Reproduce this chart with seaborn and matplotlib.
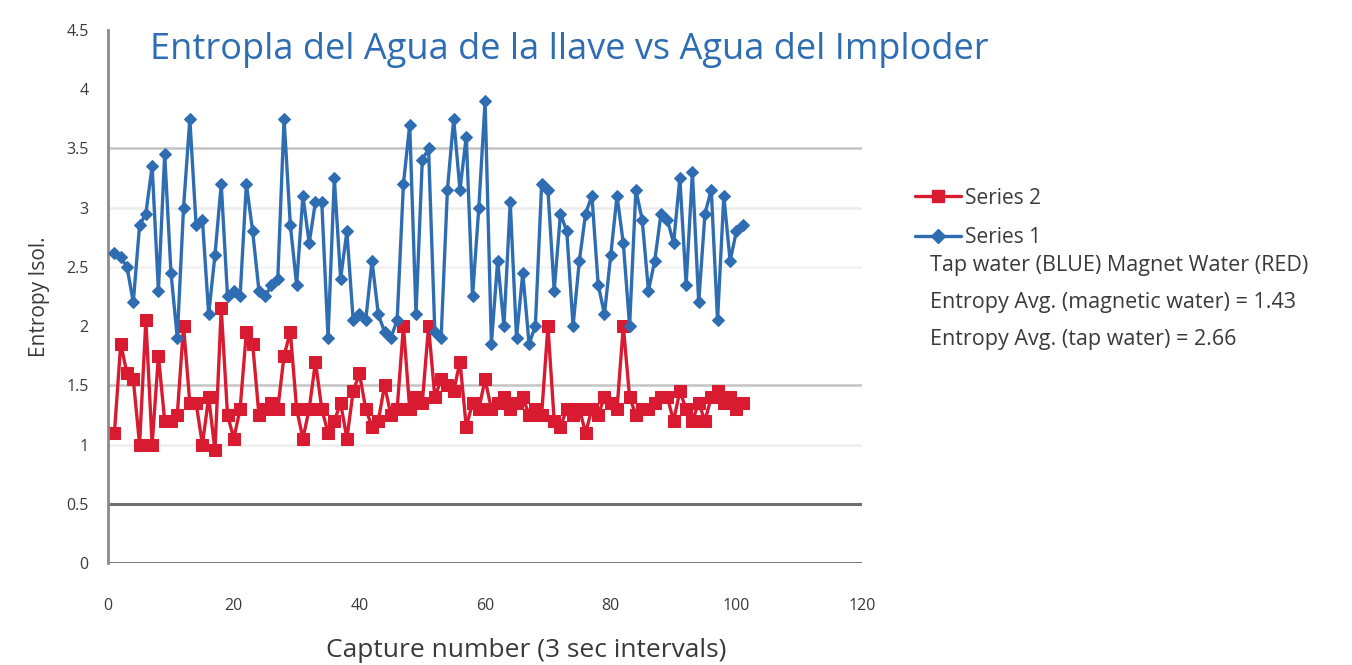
import numpy as np
import pandas as pd
import matplotlib
matplotlib.use("Agg")
import matplotlib.pyplot as plt
import seaborn as sns
from matplotlib.lines import Line2D

# -----------------------------------------------
# Data (101 captures per series)
# -----------------------------------------------
capture = list(range(1, 102))

# Series 1 = tap water (blue)
series1 = [
    2.62, 2.58, 2.50, 2.20, 2.85, 2.95, 3.35, 2.30, 3.45, 2.45,
    1.90, 3.00, 3.75, 2.85, 2.90, 2.10, 2.60, 3.20, 2.25, 2.30,
    2.25, 3.20, 2.80, 2.30, 2.25, 2.35, 2.40, 3.75, 2.85, 2.35,
    3.10, 2.70, 3.05, 3.05, 1.90, 3.25, 2.40, 2.80, 2.05, 2.10,
    2.05, 2.55, 2.10, 1.95, 1.90, 2.05, 3.20, 3.70, 2.10, 3.40,
    3.50, 1.95, 1.90, 3.15, 3.75, 3.15, 3.60, 2.25, 3.00, 3.90,
    1.85, 2.55, 2.00, 3.05, 1.90, 2.45, 1.85, 2.00, 3.20, 3.15,
    2.30, 2.95, 2.80, 2.00, 2.55, 2.95, 3.10, 2.35, 2.10, 2.60,
    3.10, 2.70, 2.00, 3.15, 2.90, 2.30, 2.55, 2.95, 2.90, 2.70,
    3.25, 2.35, 3.30, 2.20, 2.95, 3.15, 2.05, 3.10, 2.55, 2.80,
    2.85,
]

# Series 2 = magnet water (red)
series2 = [
    1.10, 1.85, 1.60, 1.55, 1.00, 2.05, 1.00, 1.75, 1.20, 1.20,
    1.25, 2.00, 1.35, 1.35, 1.00, 1.40, 0.95, 2.15, 1.25, 1.05,
    1.30, 1.95, 1.85, 1.25, 1.30, 1.35, 1.30, 1.75, 1.95, 1.30,
    1.05, 1.30, 1.70, 1.30, 1.10, 1.20, 1.35, 1.05, 1.45, 1.60,
    1.30, 1.15, 1.20, 1.50, 1.25, 1.30, 2.00, 1.30, 1.40, 1.35,
    2.00, 1.40, 1.55, 1.50, 1.45, 1.70, 1.15, 1.35, 1.30, 1.55,
    1.30, 1.35, 1.40, 1.30, 1.35, 1.40, 1.25, 1.30, 1.25, 2.00,
    1.20, 1.15, 1.30, 1.25, 1.30, 1.10, 1.30, 1.25, 1.40, 1.35,
    1.30, 2.00, 1.40, 1.25, 1.30, 1.30, 1.35, 1.40, 1.40, 1.20,
    1.45, 1.30, 1.20, 1.35, 1.20, 1.40, 1.45, 1.35, 1.40, 1.30,
    1.35,
]

notes = [
    "Tap water (BLUE) Magnet Water (RED)",
    "Entropy Avg. (magnetic water) = 1.43",
    "Entropy Avg. (tap water) = 2.66",
]

df = pd.DataFrame({"Capture": capture, "Series 1": series1, "Series 2": series2})

BLUE = "#2f6db3"
RED = "#d81b30"
TXT = "#3a3a3a"

sns.set_theme(style="white")
plt.rcParams["font.family"] = ["Open Sans", "DejaVu Sans"]

fig = plt.figure(figsize=(13.52, 6.65), dpi=100)
ax = fig.add_axes([0.08, 0.1534, 0.5576, 0.8015])

# -----------------------------------------------
# Grid lines (uneven shades as in the original)
# -----------------------------------------------
grid_shades = {3.5: "#c4c4c4", 3.0: "#ececec", 2.5: "#f2f2f2",
               1.5: "#c4c4c4", 1.0: "#eeeeee", 0.5: "#6e6e6e", 0.0: "#7a7a7a"}
for yv, c in grid_shades.items():
    ax.axhline(yv, color=c, lw=2.2 if yv <= 0.5 else 1.8, zorder=0)

# -----------------------------------------------
# Lines
# -----------------------------------------------
sns.lineplot(data=df, x="Capture", y="Series 1", color=BLUE, lw=2.4,
             marker="D", markersize=6, markeredgecolor=BLUE, ax=ax, zorder=3)
sns.lineplot(data=df, x="Capture", y="Series 2", color=RED, lw=2.4,
             marker="s", markersize=8, markeredgecolor=RED, ax=ax, zorder=2)

ax.set_xlim(0, 120)
ax.set_ylim(0, 4.5)
ax.set_xticks(np.arange(0, 121, 20))
ax.set_yticks(np.arange(0, 4.51, 0.5))
ax.set_yticklabels(["0", "0.5", "1", "1.5", "2", "2.5", "3", "3.5", "4", "4.5"])
ax.tick_params(axis="both", labelsize=11.5, colors=TXT, length=0)
ax.tick_params(axis="y", pad=14)
ax.tick_params(axis="x", pad=25)

for s in ["top", "right", "bottom"]:
    ax.spines[s].set_visible(False)
ax.spines["left"].set_color("#8a8a8a")
ax.spines["left"].set_linewidth(2)

ax.set_xlabel("Capture number (3 sec intervals)", fontsize=19, color=TXT)
ax.xaxis.set_label_coords(0.554, -0.14)
ax.set_ylabel("Entropy Isol.", fontsize=15, color=TXT, labelpad=12)

fig.text(0.111, 0.925, "Entropla del Agua de la llave vs Agua del Imploder",
         fontsize=26, color=BLUE, va="center", ha="left")

# -----------------------------------------------
# Legend and notes on the right
# -----------------------------------------------
handles = [
    Line2D([], [], color=RED, lw=2.4, marker="s", markersize=9),
    Line2D([], [], color=BLUE, lw=2.4, marker="D", markersize=7),
]
fig.legend(handles, ["Series 2", "Series 1"], loc="upper left",
           bbox_to_anchor=(0.663, 0.746), frameon=False, fontsize=15,
           handlelength=2.2, handletextpad=0.2, labelspacing=0.9,
           labelcolor=TXT)

for i, line in enumerate(notes):
    fig.text(0.688, 0.6 - i * 0.055, line, fontsize=15.5, color=TXT,
             va="center", ha="left")

fig.savefig("out.png", dpi=100)
